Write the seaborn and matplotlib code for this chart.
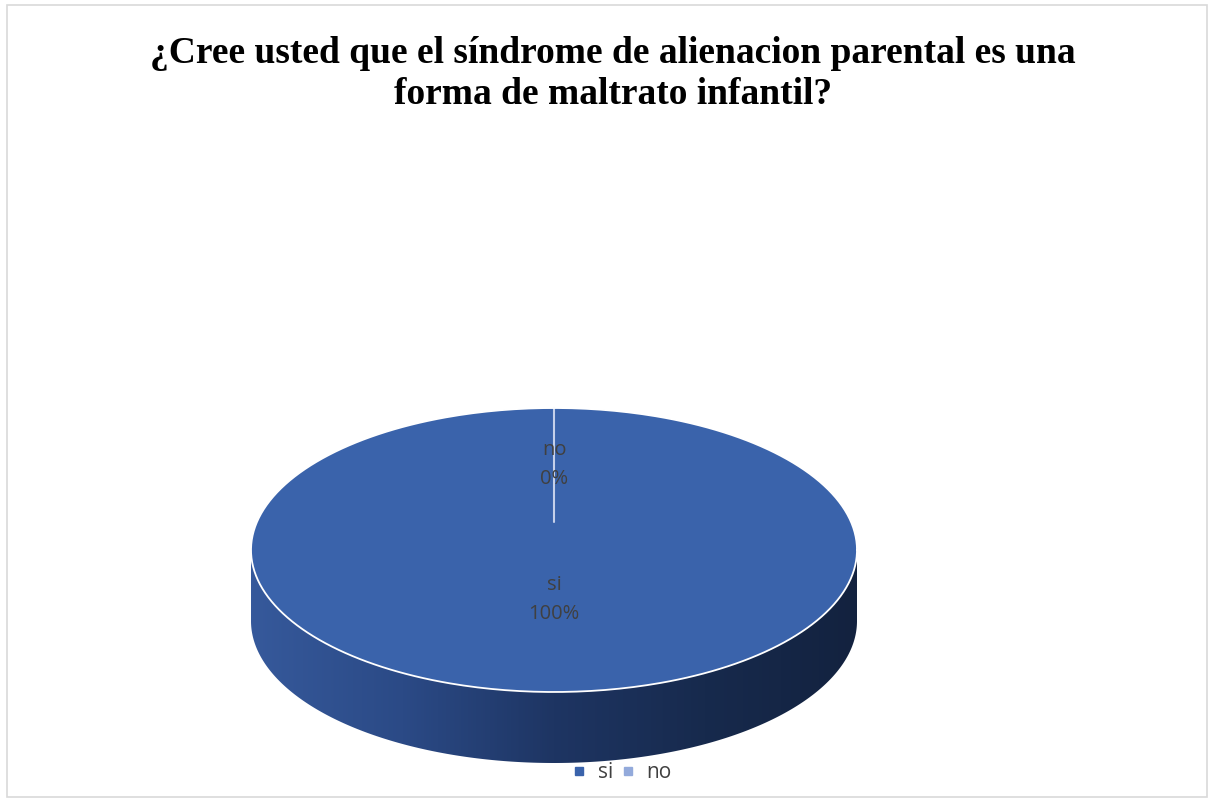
import numpy as np
import matplotlib
matplotlib.use("Agg")
import matplotlib.pyplot as plt
import seaborn as sns
from matplotlib.patches import Polygon, Rectangle
from matplotlib.colors import LinearSegmentedColormap

# Chart data
categories = ["si", "no"]
values = [100, 0]
title = "¿Cree usted que el síndrome de alienacion parental es una\nforma de maltrato infantil?"

sns.set_theme(style="white")
colors = sns.color_palette(["#3a63ab", "#93aadb"])
plt.rcParams['font.family'] = ['Open Sans', 'DejaVu Sans']

W, H = 1214, 802
fig = plt.figure(figsize=(W / 100, H / 100), dpi=100)
ax = fig.add_axes([0, 0, 1, 1])
ax.set_xlim(0, W)
ax.set_ylim(H, 0)
ax.axis('off')

# chart frame
ax.add_patch(Rectangle((7, 5), 1200, 792, fill=False, edgecolor='#d9d9d9', lw=1.2))

# Pie geometry (pixel space)
cx, cy = 554, 550
a, b = 303, 142
depth = 71


def ell(t, dy=0):
    return np.column_stack([cx + a * np.cos(t), cy + dy - b * np.sin(t)])


# side wall (front half), shaded with a horizontal gradient
t_front = np.linspace(np.pi, 2 * np.pi, 300)
side_pts = np.vstack([ell(t_front), ell(t_front[::-1], depth)])
side = Polygon(side_pts, closed=True, facecolor='none', edgecolor='none')
ax.add_patch(side)
side_cmap = LinearSegmentedColormap.from_list(
    'side', ['#36599b', '#2b4a86', '#1e3563', '#172a4d', '#13223f'])
grad = np.linspace(0, 1, 512).reshape(1, -1)
im = ax.imshow(grad, cmap=side_cmap, extent=[cx - a, cx + a, cy + depth + b + 2, cy - 2],
               aspect='auto', zorder=2)
im.set_clip_path(side)

# top face slices, clockwise from 12 o'clock
total = sum(values)
start = 90.0
label_r = [0.35, 0.6]
for i, (cat, val) in enumerate(zip(categories, values)):
    sweep = 360.0 * val / total
    end = start - sweep
    if sweep >= 360:
        pts = ell(np.linspace(0, 2 * np.pi, 400))
    else:
        t = np.radians(np.linspace(start, end, max(int(abs(sweep)) * 2, 2)))
        pts = np.vstack([[cx, cy], ell(t)])
    ax.add_patch(Polygon(pts, closed=True, facecolor=colors[i], edgecolor='none', zorder=3))
    mid = np.radians(start - sweep / 2)
    lx = cx + label_r[i] * a * np.cos(mid)
    ly = cy - label_r[i] * b * np.sin(mid)
    if sweep >= 360:
        ly = cy + label_r[i] * b
    ax.text(lx, ly, f"{cat}\n{val / total:.0%}", ha='center', va='center',
            fontsize=14.5, color='#404040', linespacing=1.6, zorder=5)
    start = end

# divider at 12 o'clock for the zero slice
ax.plot([cx, cx], [cy - b, cy - 28], color='#c5d0ea', lw=1.5, zorder=4)

# white rim on top ellipse
rim = ell(np.linspace(0, 2 * np.pi, 400))
ax.plot(rim[:, 0], rim[:, 1], color='white', lw=1.3, zorder=4)

# title
ax.text(613, 74, title, ha='center', va='center', fontsize=27,
        fontweight='bold', family=['Liberation Serif', 'DejaVu Serif'],
        color='black', linespacing=1.25)

# legend
handles = [plt.Line2D([], [], marker='s', ls='none', color=c, markersize=6) for c in colors]
fig.legend(handles, categories, loc='center', bbox_to_anchor=(615 / W, 1 - 773 / H),
           ncol=2, frameon=False, fontsize=15, handletextpad=-0.1, columnspacing=-0.3,
           labelcolor='#404040')

fig.savefig("out.png", dpi=100)
